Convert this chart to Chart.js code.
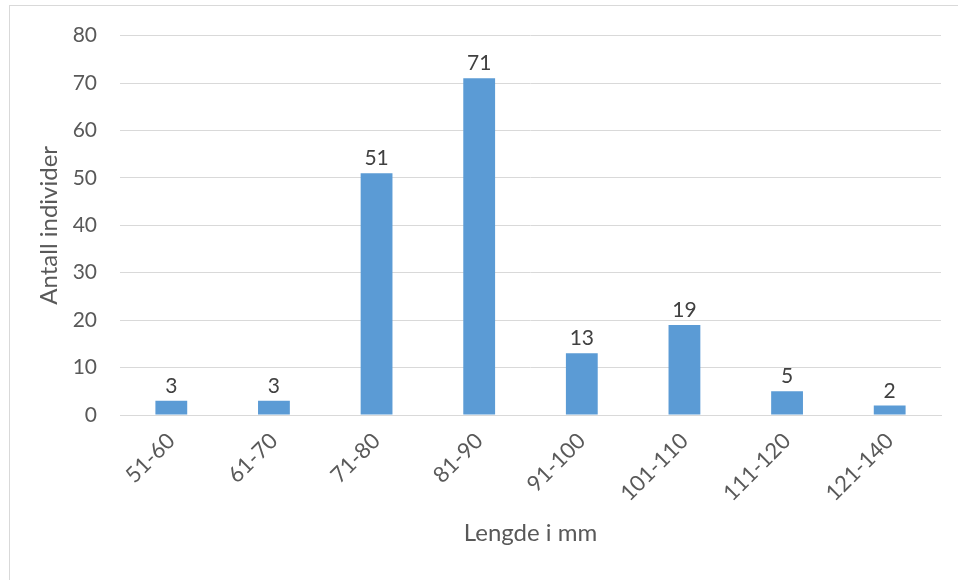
<!DOCTYPE html>
<html>
<head>
<meta charset="utf-8">
<script src="https://cdn.jsdelivr.net/npm/chart.js@4/dist/chart.umd.min.js"></script>
<style>
  html, body { margin: 0; padding: 0; background: #fff; overflow: hidden; }
  #wrap { position: relative; width: 958px; height: 580px; }
  #frame { position: absolute; left: 9px; top: 5px; width: 1000px; height: 700px;
           border: 1px solid #d9d9d9; box-sizing: border-box; }
  canvas { position: absolute; left: 0; top: 0; }
</style>
</head>
<body>
<div id="wrap">
  <div id="frame"></div>
  <canvas id="chart" width="958" height="580"></canvas>
</div>
<script>
// Length classes (mm) and number of individuals in each class
const categories = ["51-60", "61-70", "71-80", "81-90", "91-100", "101-110", "111-120", "121-140"];
const counts = [3, 3, 51, 71, 13, 19, 5, 2];
const yTicks = [0, 10, 20, 30, 40, 50, 60, 70, 80];

const FONT = "Lato";
const TEXT = "#595959";

// Writes each bar's value just above it
const valueLabels = {
  id: "valueLabels",
  afterDatasetsDraw(chart) {
    const ctx = chart.ctx;
    const meta = chart.getDatasetMeta(0);
    const values = chart.data.datasets[0].data;
    ctx.save();
    ctx.font = "21px " + FONT;
    ctx.fillStyle = "#404040";
    ctx.textAlign = "center";
    ctx.textBaseline = "alphabetic";
    meta.data.forEach((bar, i) => {
      ctx.fillText(String(values[i]), bar.x, bar.y - 8);
    });
    ctx.restore();
  }
};

new Chart(document.getElementById("chart"), {
  type: "bar",
  data: {
    labels: categories,
    datasets: [{
      data: counts,
      backgroundColor: "#5b9bd5",
      borderWidth: 0,
      categoryPercentage: 1,
      barPercentage: 0.31
    }]
  },
  options: {
    responsive: false,
    animation: false,
    layout: { padding: { left: 31, right: 17, top: 34, bottom: 28 } },
    plugins: {
      legend: { display: false },
      tooltip: { enabled: false }
    },
    scales: {
      x: {
        grid: { display: false, drawTicks: false },
        border: { display: true, color: "#d9d9d9", width: 1 },
        ticks: {
          color: TEXT,
          font: { family: FONT, size: 22 },
          minRotation: 45,
          maxRotation: 45,
          padding: 13
        },
        title: {
          display: true,
          text: "Lengde i mm",
          color: TEXT,
          font: { family: FONT, size: 24 },
          padding: { top: 4, bottom: 4 }
        },
        afterFit(scale) { scale.height = 137; }
      },
      y: {
        min: 0,
        max: 80,
        afterBuildTicks(scale) { scale.ticks = yTicks.map(v => ({ value: v })); },
        grid: { color: "#d9d9d9", lineWidth: 1, drawTicks: false },
        border: { display: false },
        ticks: {
          color: TEXT,
          font: { family: FONT, size: 21 },
          padding: 23
        },
        title: {
          display: true,
          text: "Antall individer",
          color: TEXT,
          font: { family: FONT, size: 24 },
          padding: { top: 4, bottom: 4 }
        },
        afterFit(scale) { scale.width = 89; }
      }
    }
  },
  plugins: [valueLabels]
});
</script>
</body>
</html>
